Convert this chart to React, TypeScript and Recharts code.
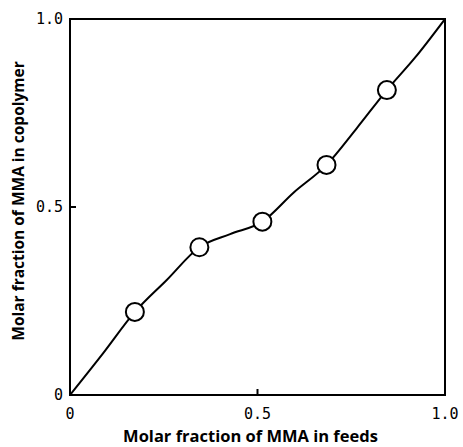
import React from 'react';
import { ComposedChart, Line, Scatter, XAxis, YAxis, ReferenceArea } from 'recharts';

const curveX = [0, 0.086, 0.173, 0.258, 0.345, 0.427, 0.513, 0.596, 0.684, 0.765, 0.845, 0.92, 1];
const curveY = [0, 0.108, 0.221, 0.306, 0.393, 0.428, 0.461, 0.538, 0.612, 0.71, 0.811, 0.897, 1];
const pointsX = [0.173, 0.345, 0.513, 0.684, 0.845];
const pointsY = [0.221, 0.393, 0.461, 0.612, 0.811];
const xTicks = [0, 0.5, 1];
const yTicks = [0, 0.5, 1];
const xTickLabels = ['0', '0.5', '1.0'];
const yTickLabels = ['0', '0.5', '1.0'];
const xTitle = 'Molar fraction of MMA in feeds';
const yTitle = 'Molar fraction of MMA in copolymer';

const curve = curveX.map((x, i) => ({ x, y: curveY[i] }));
const points = pointsX.map((x, i) => ({ x, y: pointsY[i] }));

const titleFont = { fontFamily: '"Open Sans", sans-serif', fontWeight: 700, fill: '#000' };
const tickFont = { fontFamily: '"DejaVu Sans Mono", monospace', fontSize: 15, fill: '#000' };

const Circle = (props: any) => (
  <circle cx={props.cx} cy={props.cy} r={9} fill="#fff" stroke="#000" strokeWidth={2} />
);

const YTitle = (props: any) => {
  const vb = props.viewBox;
  const cx = vb.x + 18;
  const cy = vb.y + vb.height / 2 - 6;
  return (
    <text x={cx} y={cy} transform={`rotate(-90, ${cx}, ${cy})`} textAnchor="middle" dominantBaseline="central" fontSize={15.5} {...titleFont}>
      {yTitle}
    </text>
  );
};

const XTitle = (props: any) => {
  const vb = props.viewBox;
  const cx = vb.x + vb.width / 2 - 7;
  const cy = vb.y + 40;
  return (
    <text x={cx} y={cy} textAnchor="middle" dominantBaseline="central" fontSize={16.5} {...titleFont}>
      {xTitle}
    </text>
  );
};

export default function App() {
  return (
    <div style={{ position: 'absolute', left: 0, top: 0, background: '#fff' }}>
      <ComposedChart width={463} height={447} margin={{ top: 19, right: 18, bottom: 0, left: 0 }}>
        <XAxis
          type="number"
          dataKey="x"
          domain={[0, 1]}
          ticks={xTicks}
          tickFormatter={(v: number) => xTickLabels[xTicks.indexOf(v)]}
          height={52}
          axisLine={{ stroke: '#000', strokeWidth: 2 }}
          tickLine={{ stroke: '#000', strokeWidth: 2 }}
          tickSize={-6}
          tickMargin={19}
          tick={tickFont}
          label={<XTitle />}
          allowDataOverflow
        />
        <YAxis
          type="number"
          dataKey="y"
          domain={[0, 1]}
          ticks={yTicks}
          tickFormatter={(v: number) => yTickLabels[yTicks.indexOf(v)]}
          width={70}
          axisLine={{ stroke: '#000', strokeWidth: 2 }}
          tickLine={{ stroke: '#000', strokeWidth: 2 }}
          tickSize={-6}
          tickMargin={13}
          tick={tickFont}
          label={<YTitle />}
          allowDataOverflow
        />
        <ReferenceArea x1={0} x2={1} y1={0} y2={1} fill="none" stroke="#000" strokeWidth={2} fillOpacity={0} />
        <Line
          data={curve}
          dataKey="y"
          type="monotone"
          stroke="#000"
          strokeWidth={2}
          dot={false}
          activeDot={false}
          isAnimationActive={false}
        />
        <Scatter data={points} dataKey="y" shape={<Circle />} isAnimationActive={false} />
      </ComposedChart>
    </div>
  );
}
